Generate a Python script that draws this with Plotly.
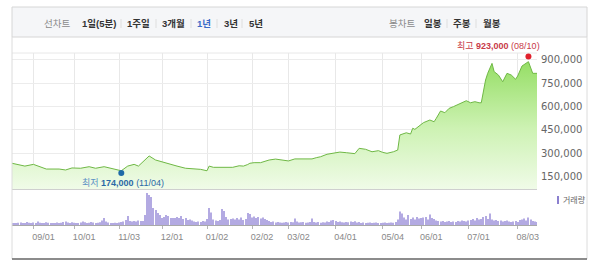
import plotly.graph_objects as go
import pandas as pd

# ---------------- data ----------------
price_dates = [
    "2014-08-18", "2014-08-21", "2014-08-26", "2014-09-01", "2014-09-04", "2014-09-12",
    "2014-09-22", "2014-09-25", "2014-09-30", "2014-10-07", "2014-10-14", "2014-10-17",
    "2014-10-23", "2014-10-29", "2014-11-04", "2014-11-07", "2014-11-12", "2014-11-14",
    "2014-11-18", "2014-11-21", "2014-11-26", "2014-12-03", "2014-12-10", "2014-12-16",
    "2014-12-22", "2014-12-26", "2015-01-02", "2015-01-05", "2015-01-07", "2015-01-12",
    "2015-01-14", "2015-01-20", "2015-01-23", "2015-01-27", "2015-01-29", "2015-01-30",
    "2015-02-03", "2015-02-06", "2015-02-12", "2015-02-17", "2015-02-25", "2015-03-02",
    "2015-03-05", "2015-03-11", "2015-03-17", "2015-03-19", "2015-03-23", "2015-03-26",
    "2015-03-30", "2015-04-01", "2015-04-03", "2015-04-08", "2015-04-13", "2015-04-14",
    "2015-04-16", "2015-04-21", "2015-04-24", "2015-04-29", "2015-05-04", "2015-05-07",
    "2015-05-12", "2015-05-14", "2015-05-15", "2015-05-20", "2015-05-22", "2015-05-26",
    "2015-05-27", "2015-05-29", "2015-06-02", "2015-06-05", "2015-06-09", "2015-06-10",
    "2015-06-12", "2015-06-16", "2015-06-18", "2015-06-22", "2015-06-25", "2015-06-30",
    "2015-07-02", "2015-07-06", "2015-07-08", "2015-07-09", "2015-07-13", "2015-07-14",
    "2015-07-16", "2015-07-17", "2015-07-21", "2015-07-23", "2015-07-27", "2015-07-29",
    "2015-07-31", "2015-08-03", "2015-08-05", "2015-08-10", "2015-08-12", "2015-08-17",
]
price_values = [
    236000, 225000, 218000, 229000, 214000, 199000,
    199000, 193000, 206000, 204000, 214000, 204000,
    214000, 199000, 188000, 218000, 229000, 218000,
    246000, 283000, 257000, 236000, 218000, 204000,
    199000, 197000, 188000, 218000, 210000, 210000,
    214000, 210000, 220000, 218000, 228000, 236000,
    240000, 240000, 257000, 263000, 257000, 251000,
    264000, 262000, 264000, 272000, 278000, 294000,
    298000, 300000, 308000, 304000, 296000, 298000,
    332000, 326000, 310000, 317000, 306000, 300000,
    310000, 321000, 418000, 432000, 424000, 461000,
    454000, 476000, 497000, 514000, 503000, 525000,
    572000, 561000, 589000, 600000, 621000, 638000,
    625000, 632000, 625000, 625000, 771000, 814000,
    878000, 825000, 803000, 760000, 814000, 803000,
    776000, 797000, 861000, 889000, 814000, 814000,
]

# KRX trading calendar: weekdays minus market holidays
period_start = "2014-08-18"
period_end = "2015-08-17"
holidays = [
    "2014-09-08", "2014-09-09", "2014-09-10", "2014-10-03", "2014-10-09",
    "2014-12-25", "2014-12-31", "2015-01-01", "2015-02-18", "2015-02-19",
    "2015-02-20", "2015-05-01", "2015-05-05", "2015-05-25", "2015-08-14",
]

# daily trading volume (thousand shares)
volume = [
    15, 20, 18, 22, 25, 18, 20, 30, 22, 18,
    25, 20, 35, 22, 18, 20, 28, 22, 18, 15,
    20, 25, 18, 22, 30, 35, 25, 20, 28, 22,
    20, 18, 25, 35, 28, 20, 22, 30, 25, 20,
    22, 28, 45, 70, 35, 25, 20, 18, 22, 15,
    25, 30, 35, 50, 90, 40, 35, 40, 35, 45,
    40, 40, 100, 320, 300, 280, 170, 150, 120, 100,
    70, 80, 100, 90, 70, 70, 70, 80, 70, 90,
    60, 70, 50, 55, 45, 35, 30, 35, 30, 40,
    35, 60, 170, 125, 55, 45, 40, 50, 160, 140,
    80, 55, 60, 65, 55, 70, 55, 75, 50, 60,
    120, 110, 75, 85, 70, 80, 65, 75, 60, 50,
    40, 30, 35, 25, 30, 25, 22, 25, 30, 25,
    30, 28, 65, 35, 25, 28, 30, 22, 25, 30,
    65, 30, 25, 30, 22, 28, 25, 35, 30, 45,
    50, 40, 30, 35, 28, 25, 30, 28, 35, 30,
    38, 25, 30, 20, 25, 18, 22, 25, 18, 22,
    25, 20, 18, 22, 25, 20, 22, 25, 22, 30,
    55, 135, 115, 75, 55, 100, 60, 75, 55, 80,
    65, 70, 75, 80, 55, 105, 70, 60, 45, 40,
    35, 40, 30, 35, 40, 30, 35, 30, 40, 35,
    45, 40, 35, 45, 50, 60, 45, 70, 55, 60,
    80, 90, 60, 115, 55, 45, 50, 40, 45, 35,
    40, 45, 35, 30, 35, 40, 30, 50, 55, 65,
    45, 75, 55, 40, 35, 30,
]

tick_dates = ["2014-09-01", "2014-10-01", "2014-11-03", "2014-12-01", "2015-01-02",
              "2015-02-02", "2015-03-02", "2015-04-01", "2015-05-04", "2015-06-01",
              "2015-07-01", "2015-08-03"]
tick_labels = ["09/01", "10/01", "11/03", "12/01", "01/02", "02/02", "03/02",
               "04/01", "05/04", "06/01", "07/01", "08/03"]

y_ticks = [150000, 300000, 450000, 600000, 750000, 900000]

low_date, low_value = "2014-11-04", 174000
high_date, high_value = "2015-08-10", 923000

header_left = ["선차트", "1일(5분)", "1주일", "3개월", "1년", "3년", "5년"]
header_right = ["봉차트", "일봉", "주봉", "월봉"]

# ---------------- build ----------------
trading_days = [d for d in pd.bdate_range(period_start, period_end)
                if d.strftime("%Y-%m-%d") not in holidays]
vol_dates = [d.strftime("%Y-%m-%d") for d in trading_days][:len(volume)]

W, H = 600, 271
def px(x): return x / W
def py(y): return 1 - y / H

LAT = "Liberation Sans, Noto Sans CJK KR, sans-serif"
rb = [dict(bounds=["sat", "mon"]), dict(values=holidays)]
DAY_MS = 86400000

fig = go.Figure()

fig.add_trace(go.Scatter(
    x=price_dates, y=price_values, mode="lines",
    line=dict(color="#6fb845", width=1),
    fill="tozeroy",
    fillgradient=dict(type="vertical",
                      colorscale=[[0, "#f0fbe8"], [0.45, "#cdf2b3"], [1, "#8fdc5c"]],
                      start=70000, stop=940000),
    xaxis="x", yaxis="y", hoverinfo="skip",
))
fig.add_trace(go.Scatter(
    x=[low_date], y=[low_value], mode="markers",
    marker=dict(color="#1f6aa8", size=6), xaxis="x", yaxis="y", cliponaxis=False,
))
fig.add_trace(go.Scatter(
    x=[high_date], y=[high_value], mode="markers",
    marker=dict(color="#e0202c", size=6), xaxis="x", yaxis="y", cliponaxis=False,
))
fig.add_trace(go.Bar(
    x=vol_dates, y=volume, width=[DAY_MS * 0.45] * len(volume),
    marker=dict(color="#b3aae2", line=dict(width=0)),
    xaxis="x2", yaxis="y2",
))

xdom = [px(12), px(537)]
fig.update_layout(
    width=W, height=H, margin=dict(l=0, r=0, t=0, b=0),
    paper_bgcolor="white", plot_bgcolor="rgba(0,0,0,0)",
    showlegend=False,
    xaxis=dict(domain=xdom, anchor="y", type="date", range=[period_start, period_end],
               rangebreaks=rb, tickvals=tick_dates, showticklabels=False,
               showgrid=True, gridcolor="#e8e8e8", gridwidth=1, zeroline=False,
               showline=True, linecolor="#cfcfcf", linewidth=1, ticks=""),
    yaxis=dict(domain=[py(189), py(53)], range=[70700, 944700], side="right",
               tickvals=y_ticks, ticktext=[f"{v:,}" for v in y_ticks],
               tickfont=dict(family="DejaVu Sans", size=10, color="#666"),
               showgrid=True, gridcolor="#ececec", zeroline=False, ticks="",
               automargin=False, ticklabelstandoff=3),
    xaxis2=dict(domain=xdom, anchor="y2", type="date", matches="x",
                range=[period_start, period_end], rangebreaks=rb,
                tickvals=tick_dates, ticktext=tick_labels,
                tickfont=dict(family=LAT, size=9, color="#888"),
                ticks="outside", ticklen=3, tickcolor="#b5b5b5",
                showline=True, linecolor="#a8a8a8", linewidth=1,
                showgrid=False, zeroline=False, ticklabelshift=10, automargin=False),
    yaxis2=dict(domain=[py(225), py(189)], range=[0, 360], showticklabels=False,
                showgrid=False, zeroline=False, ticks=""),
)

shapes = []
# header box
shapes.append(dict(type="rect", xref="paper", yref="paper", x0=px(12), x1=px(587),
                   y0=py(37), y1=py(7), fillcolor="#f5f6f8",
                   line=dict(color="#d6d6d6", width=1), layer="below"))
# outer borders
shapes.append(dict(type="line", xref="paper", yref="paper", x0=px(12), x1=px(12),
                   y0=py(259), y1=py(37), line=dict(color="#dcdcdc", width=1)))
shapes.append(dict(type="line", xref="paper", yref="paper", x0=px(587), x1=px(587),
                   y0=py(259), y1=py(37), line=dict(color="#dcdcdc", width=1)))
shapes.append(dict(type="line", xref="paper", yref="paper", x0=px(12), x1=px(587),
                   y0=py(259), y1=py(259), line=dict(color="#666", width=1.5)))
# top line of price grid
shapes.append(dict(type="line", xref="paper", yref="paper", x0=px(12), x1=px(537),
                   y0=py(53), y1=py(53), line=dict(color="#e8e8e8", width=1), layer="below"))
# header separators
for sx in [121, 156, 191, 217, 242, 447, 476]:
    shapes.append(dict(type="line", xref="paper", yref="paper", x0=px(sx), x1=px(sx),
                       y0=py(28), y1=py(19), line=dict(color="#dedede", width=1)))
# volume legend marker
shapes.append(dict(type="rect", xref="paper", yref="paper", x0=px(557), x1=px(559),
                   y0=py(204), y1=py(196), fillcolor="#8b80cf", line=dict(width=0)))
fig.update_layout(shapes=shapes)

ann = []
left_x = [57, 98.5, 138, 173.5, 204, 230.5, 255.5]
for i, (t, cx) in enumerate(zip(header_left, left_x)):
    if i == 0:
        txt, col = t, "#8a8a8a"
    elif t == "1년":
        txt, col = f"<b>{t}</b>", "#3b6cc8"
    else:
        txt, col = f"<b>{t}</b>", "#333"
    ann.append(dict(x=px(cx), y=py(23.3), xref="paper", yref="paper", text=txt,
                    showarrow=False, xanchor="center", yanchor="middle",
                    font=dict(family=LAT, size=9.5, color=col)))
right_x = [402, 432.5, 461.5, 491.5]
for i, (t, cx) in enumerate(zip(header_right, right_x)):
    txt, col = (t, "#8a8a8a") if i == 0 else (f"<b>{t}</b>", "#333")
    ann.append(dict(x=px(cx), y=py(23.3), xref="paper", yref="paper", text=txt,
                    showarrow=False, xanchor="center", yanchor="middle",
                    font=dict(family=LAT, size=9.5, color=col)))

ann.append(dict(x=high_date, y=high_value, xref="x", yref="y",
                text=f"최고 <b>{high_value:,}</b> ({high_date[5:7]}/{high_date[8:]})",
                showarrow=False, xanchor="right", yanchor="middle", xshift=14, yshift=10,
                font=dict(family=LAT, size=9, color="#c83a48")))
ann.append(dict(x=low_date, y=low_value, xref="x", yref="y",
                text=f"<span style='color:#5b8fc4'>최저</span> <b>{low_value:,}</b> ({low_date[5:7]}/{low_date[8:]})",
                showarrow=False, xanchor="center", yanchor="middle", xshift=2, yshift=-10,
                font=dict(family=LAT, size=9, color="#2b69a6")))
ann.append(dict(x=px(561), y=py(200), xref="paper", yref="paper", text="거래량",
                showarrow=False, xanchor="left", yanchor="middle",
                font=dict(family=LAT, size=8, color="#666")))
fig.update_layout(annotations=ann)

fig.write_html("out.html")
